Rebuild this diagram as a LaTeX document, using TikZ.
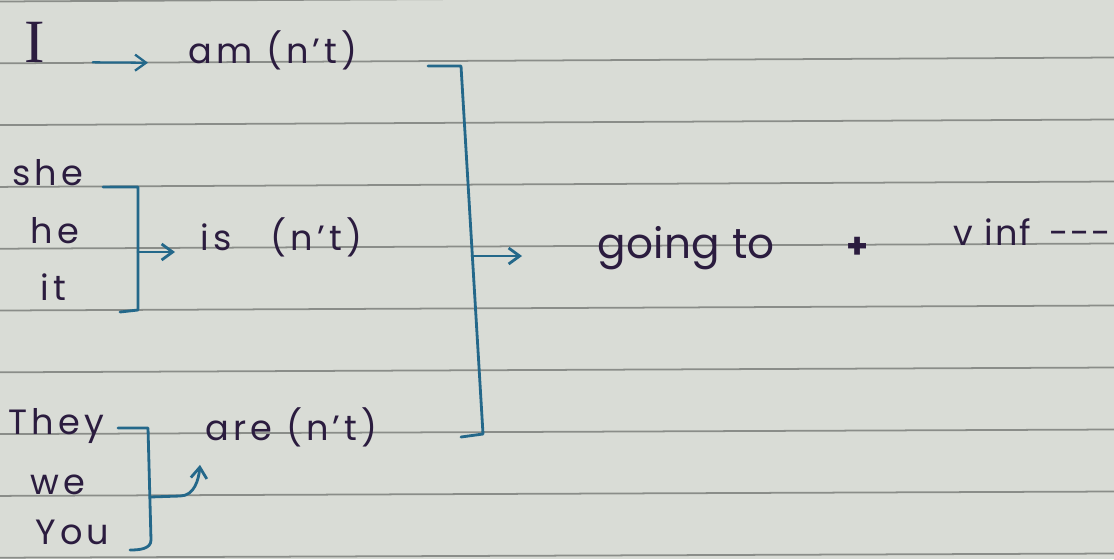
\documentclass[tikz,border=0pt]{standalone}
\usepackage{fontspec}
\setmainfont{Poppins}[LetterSpace=12]
\newfontfamily\capfont{Liberation Serif}
\usetikzlibrary{arrows.meta}
\definecolor{paper}{HTML}{D9DCD6}
\definecolor{ruling}{HTML}{8A8D89}
\definecolor{pen}{HTML}{2B1C3F}
\definecolor{inkblue}{HTML}{24688A}

\begin{document}
\begin{tikzpicture}[
  x=0.02cm, y=-0.02cm,
  word/.style={inner sep=0pt,anchor=base west,text=pen,font=\fontsize{20}{24}\selectfont},
  bracket/.style={draw=inkblue,line width=1.6pt,line join=round,line cap=round},
  arrow/.style={bracket,-{Straight Barb[length=2.2mm,width=3.2mm]}}
]
\useasboundingbox (0,0) rectangle (1114,559);
\clip (0,0) rectangle (1114,559);
% notebook page
\fill[paper] (0,0) rectangle (1114,559);
\foreach \i in {0,...,9}
  \draw[ruling,line width=1pt] (0,{1.5+61.8*\i}) -- (1114,{-4.5+62*\i});

% subjects and verbs
\node[word,font=\capfont\fontsize{35}{36}\selectfont] (I) at (24,62) {I};
\node[word] (am) at (188,63) {am (n't)};
\node[word] (she) at (12,185) {she};
\node[word] (he) at (30,243) {he};
\node[word] (it) at (40,300) {it};
\node[word] (is) at (200,250) {is\hspace{1.1em}(n't)};
\node[word] (they) at (8,434) {They};
\node[word] (we) at (30,494) {we};
\node[word] (you) at (35,544) {You};
\node[word] (are) at (205,440) {are (n't)};
\node[word,font=\fontsize{24}{28}\selectfont\addfontfeature{LetterSpace=1}] (going) at (597,258) {going to};
\node[word,font=\bfseries\fontsize{20}{24}\selectfont] (plus) at (846,258) {+};
\node[word,font=\fontsize{20}{24}\selectfont\addfontfeature{LetterSpace=6}] (vinf) at (953,245) {v inf\hspace{0.5em}-{}-{}-};

% brackets
\coordinate (b1t) at (428,66);
\coordinate (b1a) at (461,66);
\coordinate (b1b) at (483,434);
\coordinate (b1e) at (461,437);
\coordinate (b1m) at (472,256);
\draw[bracket] (b1t) -- (b1a) -- (b1b) -- (b1e);
\coordinate (b2t) at (103,187);
\coordinate (b2a) at (138,187);
\coordinate (b2b) at (138,310);
\coordinate (b2e) at (120,312);
\coordinate (b2m) at (138,252);
\draw[bracket] (b2t) -- (b2a) -- (b2b) -- (b2e);
\coordinate (b3t) at (118,428);
\coordinate (b3a) at (148,428);
\coordinate (b3b) at (151,540);
\coordinate (b3e) at (130,550);
\coordinate (b3m) at (150,497);
\draw[bracket] (b3t) -- (b3a) -- (b3b) to[out=-90,in=0] (b3e);
\coordinate (aretip) at ([shift={(-5,18)}]are.south west);

% arrows
\draw[arrow,line width=1.3pt,shorten <=0.95cm,shorten >=0.8cm] (I.base east) -- (am.base west);
\draw[arrow,shorten >=0.5cm] (b2m) -- (b2m -| is.west);
\draw[arrow] (b3m) -- ++(30,-1) to[out=0,in=-95] (aretip);
\draw[arrow,shorten >=1.5cm] (b1m) -- (b1m -| going.west);
\end{tikzpicture}
\end{document}
